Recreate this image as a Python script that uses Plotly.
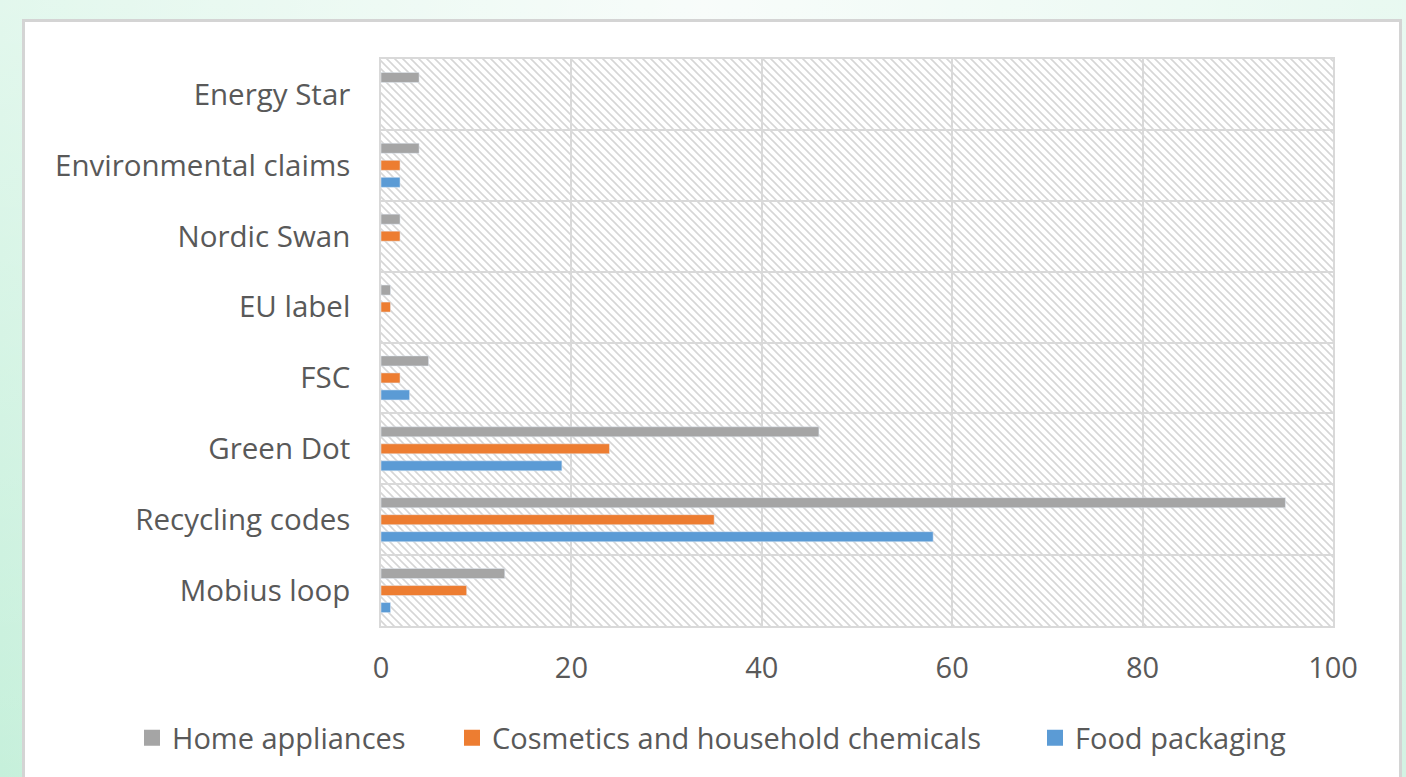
import base64
import plotly.graph_objects as go

categories = ["Mobius loop", "Recycling codes", "Green Dot", "FSC", "EU label",
              "Nordic Swan", "Environmental claims", "Energy Star"]
food_packaging = [1, 58, 19, 3, None, None, 2, None]
cosmetics = [9, 35, 24, 2, 1, 2, 2, None]
home_appliances = [13, 95, 46, 5, 1, 2, 4, 4]
x_ticks = [0, 20, 40, 60, 80, 100]

W, H = 1406, 777
L, R, T, B = 381, 1333, 59, 626
PW, PH = R - L, B - T

svg = f'''<svg xmlns="http://www.w3.org/2000/svg" width="{W}" height="{H}" viewBox="0 0 {W} {H}">
<defs>
<linearGradient id="bg" x1="0" y1="0" x2="1" y2="0">
<stop offset="0" stop-color="#c6f0db"/>
<stop offset="0.5" stop-color="#f1faf6"/>
<stop offset="1" stop-color="#d2f3e3"/>
</linearGradient>
<linearGradient id="bgv" x1="0" y1="0" x2="0" y2="1">
<stop offset="0" stop-color="#ffffff" stop-opacity="0.5"/>
<stop offset="1" stop-color="#ffffff" stop-opacity="0"/>
</linearGradient>
<pattern id="hatch" width="8" height="8" patternUnits="userSpaceOnUse">
<path d="M-2,-2 L10,10 M-2,6 L2,10 M6,-2 L10,2" stroke="#d6d6d6" stroke-width="1.6"/>
</pattern>
</defs>
<rect x="0" y="0" width="{W}" height="{H}" fill="url(#bg)"/>
<rect x="0" y="0" width="{W}" height="{H}" fill="url(#bgv)"/>
<rect x="23.5" y="20.5" width="1377" height="780" fill="#ffffff" stroke="#d4d4d4" stroke-width="3"/>
<rect x="{L}" y="{T}" width="{PW}" height="{PH}" fill="url(#hatch)"/>
</svg>'''
src = "data:image/svg+xml;base64," + base64.b64encode(svg.encode()).decode()

series = [
    ("Food packaging", food_packaging, "#5b9bd5", "legend3", 1035),
    ("Cosmetics and household chemicals", cosmetics, "#ed7d31", "legend2", 452),
    ("Home appliances", home_appliances, "#a5a5a5", "legend", 132),
]

fig = go.Figure()
for name, vals, col, lg, _ in series:
    fig.add_trace(go.Bar(y=categories, x=vals, orientation="h", name=name,
                         marker_color=col, showlegend=False))
for name, vals, col, lg, _ in series:
    fig.add_trace(go.Scatter(x=[None], y=[None], mode="markers", name=name,
                             legend=lg,
                             marker=dict(symbol="square", size=16, color=col)))

font_fam = "'Open Sans', Lato, sans-serif"
legends = {}
for name, vals, col, lg, px in series:
    legends[lg] = dict(orientation="h", x=(px - L) / PW, xanchor="left",
                       y=(B - 738) / PH, yanchor="middle",
                       font=dict(size=29, color="#595959"),
                       bgcolor="rgba(0,0,0,0)", itemwidth=30, itemsizing="trace")

fig.update_layout(
    width=W, height=H,
    margin=dict(l=L, r=W - R, t=T, b=H - B, pad=0, autoexpand=False),
    paper_bgcolor="#eefaf5",
    plot_bgcolor="rgba(0,0,0,0)",
    barmode="group", bargap=0.28, bargroupgap=0.41,
    font=dict(family=font_fam, color="#595959", size=29),
    showlegend=True,
    xaxis=dict(range=[0, 100], tickvals=x_ticks, showgrid=True,
               gridcolor="#d9d9d9", gridwidth=1.5, zeroline=False,
               showline=True, linecolor="#d9d9d9", linewidth=1.5, mirror=True,
               ticks="", ticklabelstandoff=15, fixedrange=True,
               tickfont=dict(size=29)),
    yaxis=dict(categoryorder="array", categoryarray=categories,
               tickson="boundaries", showgrid=True, gridcolor="#d9d9d9",
               gridwidth=1.5, showline=True, linecolor="#d9d9d9", linewidth=1.5,
               mirror=True, ticks="", ticklabelstandoff=23,
               tickfont=dict(size=29.5)),
    images=[dict(source=src, xref="paper", yref="paper",
                 x=-L / PW, y=1 + T / PH, sizex=W / PW, sizey=H / PH,
                 xanchor="left", yanchor="top", sizing="stretch", layer="below")],
    **legends,
)

fig.write_html("out.html", config={"displayModeBar": False})
